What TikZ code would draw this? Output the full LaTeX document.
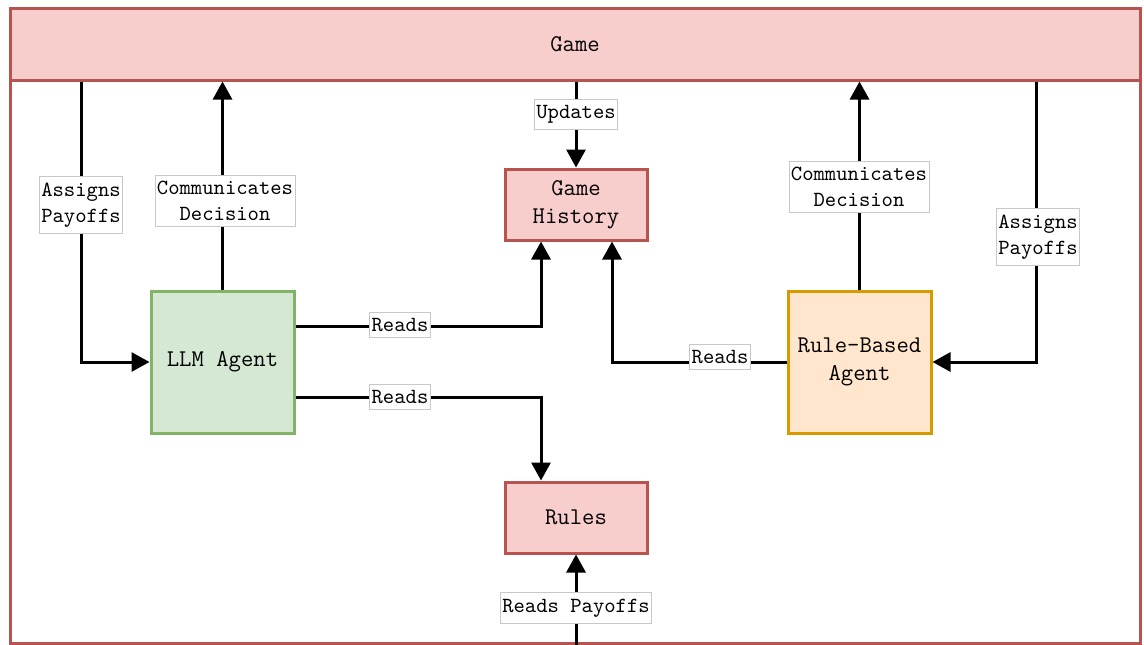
\documentclass[tikz,border=0pt]{standalone}
\usepackage{fontspec}
\usetikzlibrary{arrows.meta}
\definecolor{redfill}{HTML}{F8CECC}
\definecolor{reddraw}{HTML}{B85450}
\definecolor{greenfill}{HTML}{D5E8D4}
\definecolor{greendraw}{HTML}{82B366}
\definecolor{orangefill}{HTML}{FFE6CC}
\definecolor{orangedraw}{HTML}{D79B00}
\definecolor{lblborder}{HTML}{C8C8C8}
\tikzset{
  box/.style={draw, line width=1.5pt, align=center, inner sep=0pt,
    font=\ttfamily\fontsize{12}{14}\selectfont},
  redbox/.style={box, fill=redfill, draw=reddraw, minimum width=71pt, minimum height=35.5pt},
  agentbox/.style={box, minimum width=71.5pt, minimum height=71pt},
  lbl/.style={draw=lblborder, fill=white, line width=0.4pt, inner xsep=1pt, inner ysep=3pt,
    align=center, font=\ttfamily\fontsize{10.8}{13}\selectfont},
  conn/.style={line width=1.5pt, -{Triangle[length=9pt,width=9.5pt]}},
}
\begin{document}
\begin{tikzpicture}[x=0.5pt,y=-0.5pt]
\useasboundingbox (0,0) rectangle (1144,644);
% container
\node[draw=reddraw, line width=1.5pt, minimum width=565pt, minimum height=317.5pt, inner sep=0pt] (gamebox) at (575,325.5) {};
\node[box, fill=redfill, draw=reddraw, minimum width=565pt, minimum height=36pt] (game) at (575,44) {Game};
% boxes
\node[agentbox, fill=greenfill, draw=greendraw] (llm) at (222.5,362) {LLM Agent};
\node[agentbox, fill=orangefill, draw=orangedraw] (rba) at (859.5,362) {Rule-Based\\Agent};
\node[redbox] (hist) at (576,204.5) {Game\\History};
\node[redbox] (rules) at (576,517.5) {Rules};
% helper coordinates
\coordinate (xa) at (81,0);
\coordinate (xb) at (1036,0);
\coordinate (xc) at (541,0);
\coordinate (xd) at (612,0);
\coordinate (ya) at (0,326);
\coordinate (yb) at (0,397);
% connectors
\draw[conn] (game.south -| xa) |- (llm.west);
\draw[conn] (llm.north) -- (llm.north |- game.south);
\draw[conn] (hist.north |- game.south) -- (hist.north);
\draw[conn] (llm.east |- ya) -| (hist.south -| xc);
\draw[conn] (llm.east |- yb) -| (rules.north -| xc);
\draw[conn] (rba.west) -| (hist.south -| xd);
\draw[conn] (rba.north) -- (rba.north |- game.south);
\draw[conn] (game.south -| xb) |- (rba.east);
\draw[conn] (gamebox.south -| rules) -- (rules.south);
% labels
\node[lbl] (l1) at (81,205) {Assigns\\Payoffs};
\node[lbl] (l2) at (225,201) {Communicates\\Decision};
\node[lbl] (l3) at (576,114) {Updates};
\node[lbl] (l4) at (400,325) {Reads};
\node[lbl] (l5) at (400,397) {Reads};
\node[lbl] (l6) at (720,357) {Reads};
\node[lbl] (l7) at (859,187) {Communicates\\Decision};
\node[lbl] (l8) at (1038,237) {Assigns\\Payoffs};
\node[lbl] (l9) at (576,608) {Reads Payoffs};
\end{tikzpicture}
\end{document}
